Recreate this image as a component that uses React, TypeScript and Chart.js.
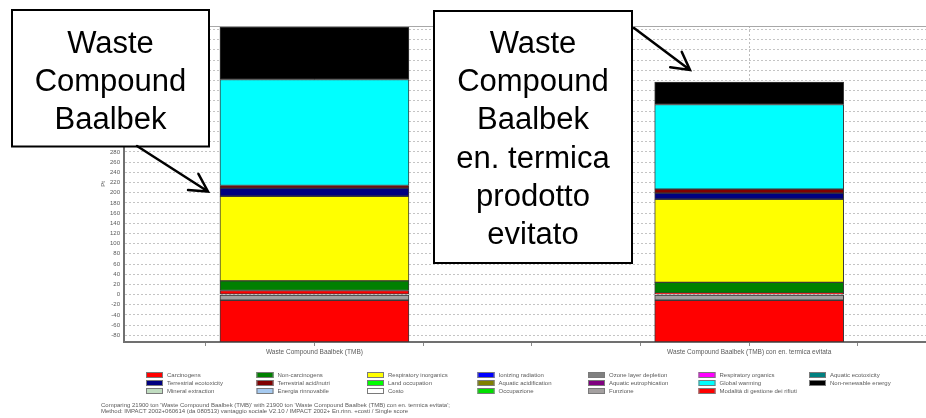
import React, { useEffect, useRef } from "react";
import { Chart, registerables } from "chart.js";

Chart.register(...registerables);

// ---- data ----
const categories = [
  "Waste Compound Baalbek (TMB)",
  "Waste Compound Baalbek (TMB) con en. termica evitata",
];

const impactCategories = [
  "Carcinogens",
  "Non-carcinogens",
  "Respiratory inorganics",
  "Ionizing radiation",
  "Ozone layer depletion",
  "Respiratory organics",
  "Aquatic ecotoxicity",
  "Terrestrial ecotoxicity",
  "Terrestrial acid/nutri",
  "Land occupation",
  "Aquatic acidification",
  "Aquatic eutrophication",
  "Global warming",
  "Non-renewable energy",
  "Mineral extraction",
  "Energia rinnovabile",
  "Costo",
  "Occupazione",
  "Funzione",
  "Modalità di gestione dei rifiuti",
];

// Pt values per impact category (same order as impactCategories)
const tmbValues = [8, 19, 166, 0, 0, 0, 0, 16, 5, 0, 0, 0, 208, 103, 0, 0, 0, 0, -11, -82];
const tmbEvitataValues = [3, 21, 163, 0, 0, 0, 0, 12, 8, 0, 0, 0, 166, 44, 0, 0, 0, 0, -11, -82];

const yMin = -93;
const yMax = 527;
const yTickFirst = -80;
const yTickLast = 520;
const yStep = 20;
const yAxisTitle = "Pt";

const calloutTexts = [
  ["Waste", "Compound", "Baalbek"],
  ["Waste", "Compound", "Baalbek", "en. termica", "prodotto", "evitato"],
];

const footerLines = [
  "Comparing 21900 ton 'Waste Compound Baalbek (TMB)' with 21900 ton 'Waste Compound Baalbek (TMB) con en. termica evitata';",
  "Method: IMPACT 2002+060614 (da 080513) vantaggio sociale V2.10 / IMPACT 2002+ En.rinn. +costi / Single score",
];

// ---- styles ----
const impactColors = [
  "#ff0000",
  "#008000",
  "#ffff00",
  "#0000ff",
  "#808080",
  "#ff00ff",
  "#008080",
  "#000080",
  "#800000",
  "#00ff00",
  "#808000",
  "#800080",
  "#00ffff",
  "#000000",
  "#c0dcc0",
  "#a6caf0",
  "#ffffff",
  "#00e000",
  "#a4a0a0",
  "#ff0000",
];

const FONT = '"Liberation Sans", Arial, sans-serif';
const SMALL_TEXT = "#5a5a5a";

const overlayPlugin = {
  id: "overlay",
  beforeDatasetsDraw(chart: any) {
    const { ctx, chartArea } = chart;
    ctx.save();
    ctx.strokeStyle = "#a8a8a8";
    ctx.lineWidth = 1;
    ctx.beginPath();
    ctx.moveTo(chartArea.left, chartArea.top + 0.5);
    ctx.lineTo(chartArea.right, chartArea.top + 0.5);
    ctx.stroke();
    ctx.restore();
  },
  afterDraw(chart: any) {
    const { ctx } = chart;
    ctx.save();
    // legend
    const datasets = chart.data.datasets;
    ctx.font = `6px ${FONT}`;
    ctx.textBaseline = "middle";
    ctx.textAlign = "left";
    datasets.forEach((ds: any, k: number) => {
      const row = Math.floor(k / 7);
      const col = k % 7;
      const x0 = 146 + col * 110.5;
      const y = 375 + row * 8;
      ctx.fillStyle = ds.backgroundColor;
      ctx.fillRect(x0, y - 3, 17, 6);
      ctx.strokeStyle = "#7a7a7a";
      ctx.lineWidth = 1;
      ctx.strokeRect(x0 + 0.5, y - 2.5, 16, 5);
      ctx.fillStyle = SMALL_TEXT;
      ctx.fillText(ds.label, x0 + 21, y);
    });
    // footer
    ctx.fillStyle = SMALL_TEXT;
    ctx.font = `6px ${FONT}`;
    footerLines.forEach((line, i) => {
      ctx.fillText(line, 101, 405 + i * 6.5);
    });

    // callouts
    const boxes = [
      { x: 12, y: 10, w: 197, h: 136.5, cx: 110.5 },
      { x: 434, y: 11, w: 198, h: 252, cx: 533 },
    ];
    boxes.forEach((b, i) => {
      ctx.fillStyle = "#ffffff";
      ctx.fillRect(b.x, b.y, b.w, b.h);
      ctx.strokeStyle = "#000000";
      ctx.lineWidth = 2;
      ctx.strokeRect(b.x, b.y, b.w, b.h);
      ctx.fillStyle = "#000000";
      ctx.font = `31px ${FONT}`;
      ctx.textAlign = "center";
      ctx.textBaseline = "alphabetic";
      calloutTexts[i].forEach((t, j) => {
        ctx.fillText(t, b.cx, 53 + j * 38.2);
      });
    });

    const arrow = (x1: number, y1: number, x2: number, y2: number) => {
      const a = Math.atan2(y2 - y1, x2 - x1);
      const len = 20;
      const spread = 0.5;
      ctx.strokeStyle = "#000000";
      ctx.lineWidth = 2.5;
      ctx.lineCap = "round";
      ctx.beginPath();
      ctx.moveTo(x1, y1);
      ctx.lineTo(x2, y2);
      ctx.moveTo(x2 - len * Math.cos(a - spread), y2 - len * Math.sin(a - spread));
      ctx.lineTo(x2, y2);
      ctx.lineTo(x2 - len * Math.cos(a + spread), y2 - len * Math.sin(a + spread));
      ctx.stroke();
    };
    arrow(137, 146, 208, 191.5);
    arrow(634, 28, 690, 70);
    ctx.restore();
  },
};

export default function App() {
  const canvasRef = useRef<HTMLCanvasElement | null>(null);

  useEffect(() => {
    if (!canvasRef.current) return;
    const datasets = impactCategories.map((name, i) => ({
      label: name,
      data: [
        { x: 0, y: tmbValues[i] },
        { x: 1, y: tmbEvitataValues[i] },
      ],
      backgroundColor: impactColors[i],
      borderColor: "#3a3a3a",
      borderWidth: 1,
      borderSkipped: false,
      barThickness: 189,
      stack: "impact",
    }));

    const chart = new Chart(canvasRef.current, {
      type: "bar",
      data: { datasets },
      plugins: [overlayPlugin],
      options: {
        responsive: false,
        animation: false,
        devicePixelRatio: 1,
        layout: { padding: { top: 26, left: 0, right: 0, bottom: 0 } },
        plugins: {
          legend: { display: false },
          tooltip: { enabled: false },
          title: { display: false },
        },
        scales: {
          x: {
            type: "linear",
            stacked: true,
            offset: false,
            min: -0.438,
            max: 1.4067,
            afterBuildTicks: (scale: any) => {
              const t = [];
              for (let v = -0.25; v <= 1.25 + 1e-9; v += 0.25) t.push({ value: Math.round(v * 100) / 100 });
              scale.ticks = t;
            },
            afterFit: (scale: any) => {
              scale.height = 76;
            },
            grid: {
              offset: false,
              color: (ctx: any) =>
                ctx.tick && Number.isInteger(ctx.tick.value) ? "#bdbdbd" : "rgba(0,0,0,0)",
              tickColor: "#8a8a8a",
              tickLength: 4,
              lineWidth: 1,
            },
            border: { color: "#707070", width: 2, dash: [2, 2] },
            ticks: {
              autoSkip: false,
              maxRotation: 0,
              minRotation: 0,
              padding: 2,
              color: SMALL_TEXT,
              font: { family: FONT, size: 6.5 },
              callback: (v: any) =>
                Number.isInteger(v) && categories[v] !== undefined ? categories[v] : "",
            },
          },
          y: {
            type: "linear",
            stacked: true,
            min: yMin,
            max: yMax,
            afterBuildTicks: (scale: any) => {
              const t = [];
              for (let v = yTickFirst; v <= yTickLast; v += yStep) t.push({ value: v });
              scale.ticks = t;
            },
            afterFit: (scale: any) => {
              scale.width = 124;
            },
            grid: {
              color: "#c4c4c4",
              lineWidth: 1,
              drawTicks: false,
            },
            border: { color: "#707070", width: 2, dash: [2, 2] },
            ticks: {
              padding: 4,
              color: SMALL_TEXT,
              font: { family: FONT, size: 6 },
            },
            title: {
              display: true,
              text: yAxisTitle,
              color: SMALL_TEXT,
              font: { family: FONT, size: 6 },
              padding: { top: 100, bottom: 0 },
            },
          },
        },
      } as any,
    });
    return () => chart.destroy();
  }, []);

  return (
    <div style={{ position: "absolute", left: 0, top: 0, width: 926, height: 418, background: "#ffffff" }}>
      <canvas ref={canvasRef} width={926} height={418} style={{ width: 926, height: 418, display: "block" }} />
    </div>
  );
}
